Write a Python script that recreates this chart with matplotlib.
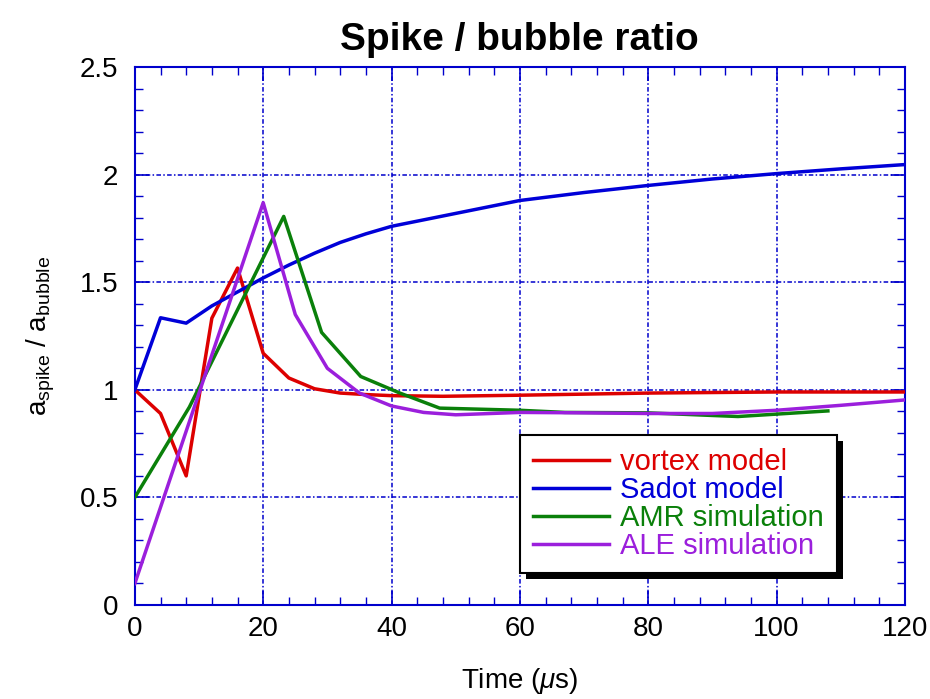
import matplotlib
matplotlib.use("Agg")
import matplotlib.pyplot as plt
from matplotlib.patches import Rectangle
from matplotlib.transforms import IdentityTransform
from matplotlib.ticker import MultipleLocator

plt.rcParams['font.family'] = ['Liberation Sans', 'DejaVu Sans']
plt.rcParams['mathtext.fontset'] = 'custom'
plt.rcParams['mathtext.rm'] = 'Liberation Sans'
plt.rcParams['mathtext.it'] = 'Liberation Sans:italic'

# data
vortex_t = [0, 4, 8, 12, 16, 20, 24, 28, 32, 36, 40, 48, 60, 80, 100, 120]
vortex_r = [1.0, 0.89, 0.60, 1.333, 1.566, 1.17, 1.055, 1.005, 0.985, 0.978,
            0.973, 0.97, 0.975, 0.985, 0.99, 0.99]

sadot_t = [0, 4, 8, 12, 16, 20, 24, 28, 32, 36, 40, 50, 60, 70, 80, 90, 100, 110, 120]
sadot_r = [1.0, 1.335, 1.31, 1.39, 1.455, 1.52, 1.58, 1.635, 1.685, 1.725, 1.76,
           1.82, 1.88, 1.917, 1.95, 1.98, 2.005, 2.027, 2.047]

amr_t = [0, 8.5, 23.2, 29.1, 35.2, 41.3, 47.5, 60, 67, 80, 94, 108]
amr_r = [0.5, 0.92, 1.806, 1.267, 1.062, 0.985, 0.915, 0.905, 0.895, 0.893, 0.876, 0.902]

ale_t = [0, 20, 25, 30, 35, 40, 45, 50, 60, 70, 80, 90, 100, 110, 120]
ale_r = [0.1, 1.87, 1.35, 1.10, 0.985, 0.925, 0.895, 0.884, 0.895, 0.893, 0.89,
         0.89, 0.905, 0.928, 0.953]

labels = ["vortex model", "Sadot model", "AMR simulation", "ALE simulation"]
colors = ['#dd0000', '#0000d8', '#0a800a', '#9b1fdc']

fig = plt.figure(figsize=(9.3, 6.99), dpi=100)
ax = fig.add_axes([0.145, 0.1345, 0.828, 0.7695])

series = [(vortex_t, vortex_r), (sadot_t, sadot_r), (amr_t, amr_r), (ale_t, ale_r)]
for (t, r), lab, c in zip(series, labels, colors):
    ax.plot(t, r, color=c, lw=2.5, label=lab, zorder=3)

ax.set_xlim(0, 120)
ax.set_ylim(0, 2.5)
ax.xaxis.set_major_locator(MultipleLocator(20))
ax.xaxis.set_minor_locator(MultipleLocator(4))
ax.yaxis.set_major_locator(MultipleLocator(0.5))
ax.yaxis.set_minor_locator(MultipleLocator(0.1))
ax.set_yticks([0, 0.5, 1, 1.5, 2, 2.5], ['0', '0.5', '1', '1.5', '2', '2.5'])

ax.grid(True, which='major', color='#0000cc', lw=1.1, ls=(0, (3, 1.5, 1, 1.5)))
ax.tick_params(which='both', direction='in', top=True, right=True,
               color='#0000cc', labelsize=20)
ax.tick_params(axis='y', pad=12)
ax.tick_params(axis='x', pad=8)
ax.tick_params(which='major', length=10, width=1.2)
ax.tick_params(which='minor', length=6, width=1)
for s in ax.spines.values():
    s.set_color('#0000cc')
    s.set_linewidth(1.5)

ax.set_title("Spike / bubble ratio", fontsize=28, fontweight='bold', pad=12)
ax.set_xlabel(r"Time ($\mathit{\mu}$s)", fontsize=20, labelpad=17)
ax.set_ylabel(r"a$_{\mathregular{spike}}$ / a$_{\mathregular{bubble}}$", fontsize=20, labelpad=16)

leg = ax.legend(loc='upper left', bbox_to_anchor=(0.5, 0.316), borderaxespad=0,
                fontsize=21, fancybox=False, framealpha=1, edgecolor='black',
                handlelength=2.6, handletextpad=0.4, labelspacing=0.0,
                borderpad=0.45)
leg.get_frame().set_linewidth(1.5)
for txt, c in zip(leg.get_texts(), colors):
    txt.set_color(c)
leg.set_zorder(6)

# black drop shadow behind the legend box
fig.canvas.draw()
bb = leg.get_window_extent()
shadow = Rectangle((bb.x0 + 6, bb.y0 - 6), bb.width, bb.height,
                   transform=IdentityTransform(), facecolor='black',
                   edgecolor='none', zorder=5.5, clip_on=False)
ax.add_artist(shadow)

plt.savefig("out.png", dpi=100)
